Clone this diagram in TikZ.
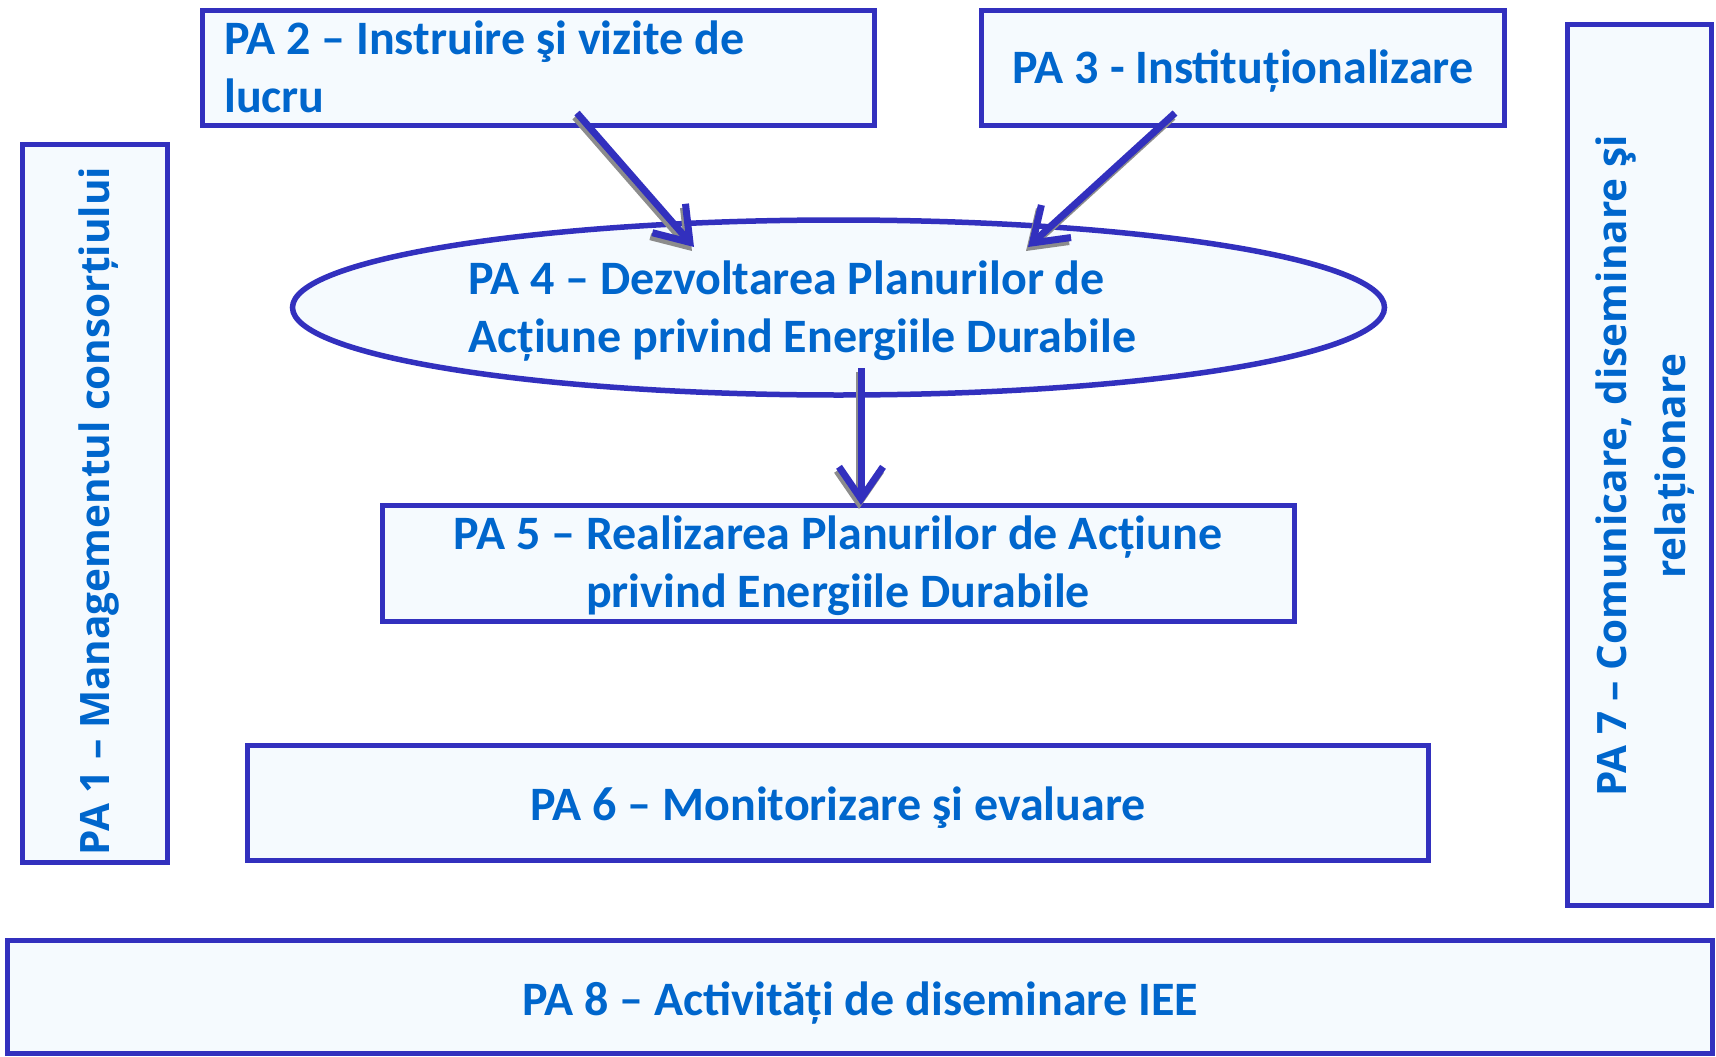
\documentclass[tikz,border=0pt]{standalone}
\usepackage{fontspec}
\setmainfont{Carlito}
\newfontfamily\rotfont{Open Sans}
\usetikzlibrary{arrows.meta,shapes.geometric}
\definecolor{bordc}{RGB}{50,48,190}
\definecolor{txtc}{RGB}{0,102,204}
\definecolor{fillc}{RGB}{245,250,254}
\definecolor{shadc}{RGB}{140,140,140}
\begin{document}
\begin{tikzpicture}[x=1pt,y=-1pt,
  box/.style={draw=bordc,fill=fillc,line width=5.5pt,rectangle,inner sep=0pt},
  lbl/.style={text=txtc,font=\bfseries\fontsize{48}{58}\selectfont,inner sep=0pt},
  rlbl/.style={text=txtc,font=\rotfont\bfseries\fontsize{40.5}{59}\selectfont,inner sep=0pt,rotate=90},
  arrowtip/.style={-{Straight Barb[length=32pt,width=44pt]}},
  arr/.style={draw=bordc,line width=7pt,arrowtip},
  arrshadow/.style={draw=shadc,line width=7pt,arrowtip,transform canvas={xshift=-2pt,yshift=-4pt}}
]
\useasboundingbox (0,0) rectangle (1716,1057);
\fill[white] (0,0) rectangle (1716,1057);

% boxes
\node[box,minimum width=672pt,minimum height=115pt] (pa2) at (538.5,68) {};
\node[box,minimum width=523pt,minimum height=115pt] (pa3) at (1243,68) {};
\node[box,minimum width=145pt,minimum height=718pt] (pa1) at (95,503.5) {};
\node[box,minimum width=144pt,minimum height=881pt] (pa7) at (1639.5,465) {};
\node[draw=bordc,fill=fillc,line width=5.5pt,ellipse,inner sep=0pt,minimum width=1092pt,minimum height=175pt] (pa4) at (838.5,307.5) {};
\node[box,minimum width=912pt,minimum height=116pt] (pa5) at (838.5,563.5) {};
\node[box,minimum width=1181pt,minimum height=115pt] (pa6) at (838,803) {};
\node[box,minimum width=1705pt,minimum height=113pt] (pa8) at (860,997) {};

% texts (multi-line nodes: base = last line)
\node[lbl,align=left,anchor=base west] (t2) at (224,112) {PA 2 – Instruire şi vizite de\\lucru};
\node[lbl,anchor=base] (t3) at (1243,83) {PA 3 - Instituționalizare};
\node[lbl,align=left,anchor=base west] (t4) at (468,352) {PA 4 – Dezvoltarea Planurilor de\\Acțiune privind Energiile Durabile};
\node[lbl,align=center,anchor=base] (t5) at (838,607) {PA 5 – Realizarea Planurilor de Acțiune\\privind Energiile Durabile};
\node[lbl,anchor=base] (t6) at (838,820) {PA 6 – Monitorizare şi evaluare};
\node[lbl,anchor=base] (t8) at (860,1015) {PA 8 – Activități de diseminare IEE};
\node[rlbl,anchor=base] (t1) at (109,511) {PA 1 – Managementul consorțiului};
\node[rlbl,align=center,anchor=center] (t7) at (1645,466) {PA 7 – Comunicare, diseminare şi\\relaționare};

% arrow end points
\coordinate (a2s) at (577,113);
\coordinate (a2e) at (694,247);
\coordinate (a3s) at (1175,113);
\coordinate (a3e) at (1028,247);
\coordinate (a4s) at (861,368);
\coordinate (a4e) at (861,505);

% shadows
\draw[arrshadow] (a2s) -- (a2e);
\draw[arrshadow] (a3s) -- (a3e);
\draw[arrshadow] (a4s) -- (a4e);
\draw[arr] (a2s) -- (a2e);
\draw[arr] (a3s) -- (a3e);
\draw[arr] (a4s) -- (a4e);
\end{tikzpicture}
\end{document}
